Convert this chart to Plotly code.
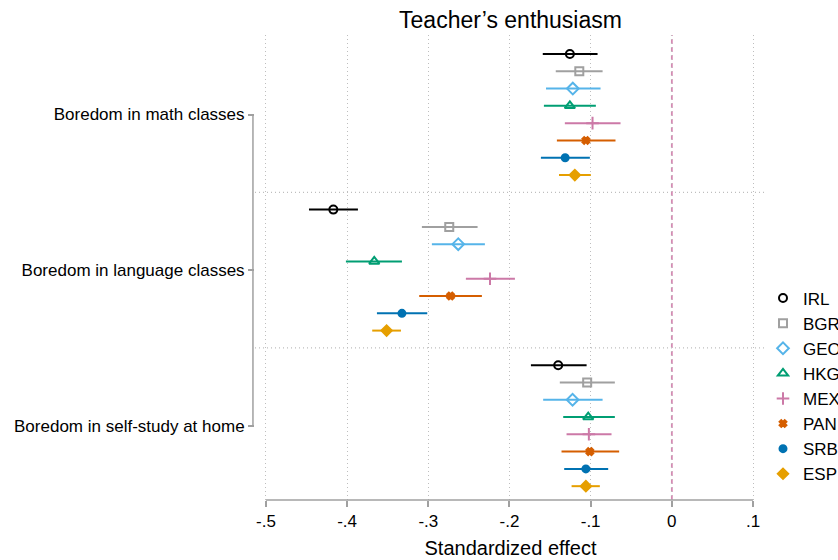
import plotly.graph_objects as go

countries = ["IRL", "BGR", "GEO", "HKG", "MEX", "PAN", "SRB", "ESP"]
legend_names = ["IRL", "BGR", "GEO", "HKG", "MEX", "PAN", "SRB", "ESP"]
outcomes = ["Boredom in math classes", "Boredom in language classes", "Boredom in self-study at home"]

math_est = [-0.1256, -0.1140, -0.1220, -0.1256, -0.0977, -0.1059, -0.1314, -0.1195]
math_lo = [-0.1590, -0.1430, -0.1550, -0.1576, -0.1318, -0.1416, -0.1613, -0.1390]
math_hi = [-0.0915, -0.0853, -0.0878, -0.0936, -0.0632, -0.0694, -0.1010, -0.0998]

lang_est = [-0.4170, -0.2742, -0.2631, -0.3666, -0.2240, -0.2726, -0.3325, -0.3514]
lang_lo = [-0.4470, -0.3079, -0.2956, -0.4015, -0.2537, -0.3112, -0.3633, -0.3691]
lang_hi = [-0.3867, -0.2393, -0.2303, -0.3325, -0.1933, -0.2340, -0.3013, -0.3337]

self_est = [-0.1400, -0.1043, -0.1223, -0.1030, -0.1022, -0.1010, -0.1059, -0.1059]
self_lo = [-0.1736, -0.1380, -0.1585, -0.1338, -0.1297, -0.1359, -0.1326, -0.1235]
self_hi = [-0.1050, -0.0702, -0.0853, -0.0702, -0.0743, -0.0649, -0.0784, -0.0887]

xtick_vals = [-0.5, -0.4, -0.3, -0.2, -0.1, 0.0, 0.1]
xtick_text = ["-.5", "-.4", "-.3", "-.2", "-.1", "0", ".1"]

colors = ["#000000", "#A0A0A0", "#56B4E9", "#009E73", "#CC79A7", "#D55E00", "#0072B2", "#E69F00"]
symbols = ["circle-open", "square-open", "diamond-open", "triangle-up-open",
           "cross-thin-open", "x", "circle", "diamond"]
sizes = [8, 8, 9, 9, 9, 6, 7, 8]

est = [math_est, lang_est, self_est]
lo = [math_lo, lang_lo, self_lo]
hi = [math_hi, lang_hi, self_hi]

GAP = 9
fig = go.Figure()
for i, c in enumerate(countries):
    xs, ys, ep, em = [], [], [], []
    for g in range(3):
        xs.append(est[g][i])
        ys.append(g * GAP + i)
        ep.append(hi[g][i] - est[g][i])
        em.append(est[g][i] - lo[g][i])
    fig.add_trace(go.Scatter(
        x=xs, y=ys, mode="markers", name=legend_names[i],
        marker=dict(symbol=symbols[i], size=sizes[i], color=colors[i],
                    line=dict(width=2, color=colors[i])),
        error_x=dict(type="data", symmetric=False, array=ep, arrayminus=em,
                     color=colors[i], thickness=2, width=0),
    ))

shapes = []
for g in range(1, 3):
    shapes.append(dict(type="line", xref="paper", x0=0, x1=1, yref="y",
                       y0=g * GAP - 1, y1=g * GAP - 1,
                       line=dict(color="#BEBEBE", width=1.2, dash="1px,3px"), layer="below"))
shapes.append(dict(type="line", xref="x", x0=0, x1=0, yref="paper", y0=0, y1=1,
                   line=dict(color="#D48AB3", width=1.8, dash="5px,3px"), layer="below"))
shapes.append(dict(type="line", xref="x", x0=-0.5, x1=0.1, yref="paper", y0=0, y1=0,
                   line=dict(color="#A0A0A0", width=1.5)))
centers = [g * GAP + 3.5 for g in range(3)]
shapes.append(dict(type="line", xref="paper", x0=-0.004, x1=-0.004, yref="y",
                   y0=centers[0], y1=centers[-1], line=dict(color="#A0A0A0", width=1.5)))

fig.update_layout(
    width=838, height=560,
    margin=dict(l=255, r=72, t=35, b=60, autoexpand=False),
    paper_bgcolor="white", plot_bgcolor="white",
    font=dict(family="Liberation Sans, Arial, sans-serif", size=17, color="black"),
    title=dict(text="Teacher’s enthusiasm", x=0.5, xref="paper", xanchor="center",
               y=1 - 20 / 560, yref="container", yanchor="middle",
               font=dict(size=23, color="black")),
    shapes=shapes,
    showlegend=True,
    legend=dict(xref="container", x=763 / 838, xanchor="left",
                yref="container", y=(560 - 386) / 560, yanchor="middle",
                font=dict(size=17), bgcolor="rgba(0,0,0,0)", itemwidth=30),
    xaxis=dict(range=[-0.5135, 0.116], tickvals=xtick_vals, ticktext=xtick_text,
               showgrid=True, gridcolor="#BEBEBE", griddash="1px,3px", gridwidth=1.2,
               zeroline=False, showline=False, ticks="outside", ticklen=6,
               tickcolor="#A0A0A0", tickwidth=1.5, tickfont=dict(size=17),
               automargin=False,
               title=dict(text="Standardized effect", font=dict(size=20), standoff=10)),
    yaxis=dict(range=[25.8, -1.1], tickvals=centers, ticktext=outcomes,
               showgrid=False, zeroline=False, showline=False, ticks="outside",
               ticklen=6, tickcolor="#A0A0A0", tickwidth=1.5, tickfont=dict(size=17),
               automargin=False),
)

fig.write_html("out.html", config={"displayModeBar": False},
               post_script="document.body.style.margin='0';document.body.style.overflow='hidden';")
